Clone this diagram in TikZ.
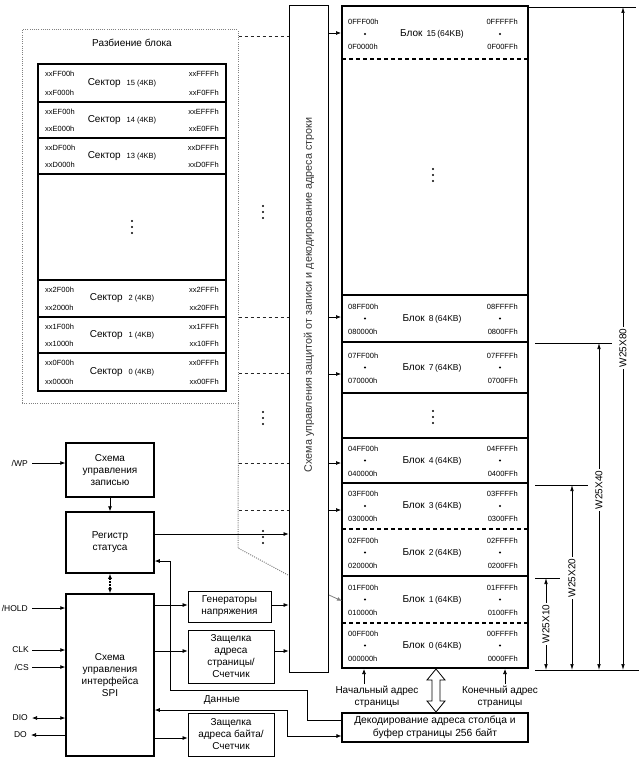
\documentclass[tikz,border=0pt]{standalone}
\usepackage{fontspec}
\setmainfont{Liberation Sans}
\usetikzlibrary{arrows.meta,calc}
\begin{document}
\begin{tikzpicture}[x=1pt,y=-1pt,
  arr/.style={-{Latex[length=5pt,width=4pt]}, line width=0.7pt},
  darr/.style={{Latex[length=5pt,width=4pt]}-{Latex[length=5pt,width=4pt]}, line width=0.7pt},
  dimarr/.style={{Latex[length=6pt,width=3.5pt]}-{Latex[length=6pt,width=3.5pt]}, line width=0.6pt},
  thickbox/.style={draw, line width=1.5pt, align=center, inner sep=0pt, font=\fontsize{10}{12}\selectfont},
  thinbox/.style={draw, line width=0.8pt, align=center, inner sep=0pt, font=\fontsize{10}{12}\selectfont},
  addr/.style={inner sep=0pt, font=\fontsize{7.5}{8}\selectfont},
  lbl/.style={inner sep=0pt, font=\fontsize{10}{12}\selectfont, align=center},
  sig/.style={inner sep=0pt, font=\fontsize{8.5}{10}\selectfont, anchor=east},
  dsh/.style={dash pattern=on 3pt off 3pt, line width=0.9pt, black!85},
  dotl/.style={dash pattern=on 1pt off 1.2pt, line width=1pt, gray},
  dimlbl/.style={fill=white, rotate=90, inner sep=1.5pt, font=\fontsize{10}{12}\selectfont},
  vd/.pic={\fill (0,-6) circle (1.1pt) (0,0) circle (1.1pt) (0,6) circle (1.1pt);}
]
\useasboundingbox (0,0) rectangle (639,760);

% ---------- block partition (sectors) ----------
\node[draw, dotl, minimum width=216pt, minimum height=373pt, inner sep=0pt] (part) at (130,216.5) {};
\node[lbl] (ptitle) at (132,43) {Разбиение блока};
\foreach \tp/\bt/\nm/\la/\lb/\ra/\rb in {
  64/102/15/xxFF00h/xxF000h/xxFFFFh/xxF0FFh,
  102/138/14/xxEF00h/xxE000h/xxEFFFh/xxE0FFh,
  138/174/13/xxDF00h/xxD000h/xxDFFFh/xxD0FFh,
  280/317/2/xx2F00h/xx2000h/xx2FFFh/xx20FFh,
  317/353/1/xx1F00h/xx1000h/xx1FFFh/xx10FFh,
  353/391/0/xx0F00h/xx0000h/xx0FFFh/xx00FFh}{
  \draw[line width=1.3pt] (38,\tp) rectangle (226,\bt);
  \node[addr, anchor=west] at (45,\tp+10) {\la};
  \node[addr, anchor=west] at (45,\bt-9) {\lb};
  \node[addr, anchor=east] at (219,\tp+10) {\ra};
  \node[addr, anchor=east] at (219,\bt-9) {\rb};
  \node[inner sep=0pt] at (122,{(\tp+\bt)/2}) {\fontsize{10}{12}\selectfont Сектор\hspace{6pt}\fontsize{7.5}{9}\selectfont\nm\ (4KB)};
}
\draw[line width=1.3pt] (38,174) rectangle (226,280);
\pic at (132,227) {vd};

% dotted continuation of the partition outline
\draw[dotl] (part.south east) -- (238,548) -- (288,575);

% ---------- row decoder ----------
\node[draw, line width=0.8pt, minimum width=39pt, minimum height=667pt, inner sep=0pt] (rowdec) at (308.5,338.5) {};
\node[rotate=90, inner sep=0pt, text=black!80, font=\fontsize{10.8}{12}\selectfont] (rowtxt) at (309,295) {Схема управления защитой от записи и декодирование адреса строки};

% ---------- memory array ----------
\node[draw, line width=2pt, minimum width=186pt, minimum height=662pt, inner sep=0pt] (mem) at (435,337) {};
\draw[line width=1.5pt, dash pattern=on 4pt off 3pt] (342,59) -- (528,59);
\draw[line width=1.2pt] (342,295) -- (528,295);
\draw[line width=1.2pt] (342,342) -- (528,342);
\draw[line width=1.5pt] (342,393) -- (528,393);
\draw[line width=1.5pt] (342,438) -- (528,438);
\draw[line width=1.2pt] (342,483) -- (528,483);
\draw[line width=1.5pt, dash pattern=on 4pt off 3pt] (342,529) -- (528,529);
\draw[line width=2pt] (342,576) -- (528,576);
\draw[line width=1.5pt, dash pattern=on 4pt off 3pt] (342,623) -- (528,623);
\foreach \m/\nm/\la/\lb/\ra/\rb in {
  34/15/0FFF00h/0F0000h/0FFFFFh/0F00FFh,
  318.5/8/08FF00h/080000h/08FFFFh/0800FFh,
  367.5/7/07FF00h/070000h/07FFFFh/0700FFh,
  460.5/4/04FF00h/040000h/04FFFFh/0400FFh,
  506/3/03FF00h/030000h/03FFFFh/0300FFh,
  552.5/2/02FF00h/020000h/02FFFFh/0200FFh,
  599.5/1/01FF00h/010000h/01FFFFh/0100FFh,
  645.5/0/00FF00h/000000h/00FFFFh/0000FFh}{
  \node[addr, anchor=west] at (348,\m-12) {\la};
  \fill (365,\m) circle (1.1pt);
  \node[addr, anchor=west] at (348,\m+13) {\lb};
  \node[addr, anchor=east] at (518,\m-12) {\ra};
  \fill (500,\m) circle (1.1pt);
  \node[addr, anchor=east] at (518,\m+13) {\rb};
  \node[inner sep=0pt] at (432,\m) {\fontsize{10}{12}\selectfont Блок\hspace{4pt}\fontsize{8.5}{9}\selectfont\nm\,(64KB)};
}
\pic at (433,175) {vd};
\pic at (433,417) {vd};

% ---------- links partition -> row decoder -> memory ----------
\foreach \y in {36,317,373,463,510}{
  \coordinate (q\y) at (0,\y);
  \draw[dsh] (q\y -| part.east) -- (q\y -| rowdec.west);
}
\foreach \y in {33,317,374,463,510}{
  \coordinate (r\y) at (0,\y);
  \draw[arr] (r\y -| rowdec.east) -- (r\y -| mem.west);
}
\draw[-{Latex[length=5pt,width=4pt]}, line width=0.8pt, gray] (329,595) -- (342,601);
\pic at (263,212) {vd};
\pic at (263,418) {vd};
\pic at (263,537) {vd};

% ---------- dimension lines ----------
\draw[line width=0.7pt] (528,7) -- (636,7);
\draw[line width=0.6pt] (535,343) -- (612,343);
\draw[line width=0.6pt] (535,485) -- (588,485);
\draw[line width=0.6pt] (535,578) -- (560,578);
\draw[line width=0.7pt] (535,670) -- (639,670);
\draw[dimarr] (623,7) -- (623,670);
\node[dimlbl] at (623,348) {W25X80};
\draw[dimarr] (599,343) -- (599,670);
\node[dimlbl] at (599,490) {W25X40};
\draw[dimarr] (572,485) -- (572,670);
\node[dimlbl] at (572,578) {W25X20};
\draw[dimarr] (546,578) -- (546,670);
\node[dimlbl] at (546,624) {W25X10};

% ---------- control blocks ----------
\node[thickbox, minimum width=88pt, minimum height=54pt] (wpctl) at (110,470) {Схема\\управления\\записью};
\node[thickbox, minimum width=88pt, minimum height=61pt] (status) at (110,542.5) {Регистр\\статуса};
\node[thickbox, minimum width=88pt, minimum height=162pt] (spi) at (110,675) {Схема\\управления\\интерфейса\\SPI};
\node[thinbox, minimum width=83pt, minimum height=31pt] (gen) at (229.5,606.5) {Генераторы\\напряжения};
\node[thinbox, minimum width=86pt, minimum height=53pt] (page) at (231,656.5) {Защелка\\адреса\\страницы/\\Счетчик};
\node[thinbox, minimum width=86pt, minimum height=43pt] (byte) at (231,734.5) {Защелка\\адреса байта/\\Счетчик};
\node[draw, line width=1.2pt, minimum width=186pt, minimum height=29pt, inner sep=0pt, align=center, font=\fontsize{10.3}{12.5}\selectfont] (decode) at (435,727.5) {Декодирование адреса столбца и\\буфер страницы 256 байт};

% signals
\node[sig] (wp) at (28,463) {/WP};
\node[sig] (hold) at (28,608) {/HOLD};
\node[sig] (clk) at (29,650) {CLK};
\node[sig] (cs) at (29,667) {/CS};
\node[sig] (dio) at (28,718) {DIO};
\node[sig] (do) at (27,735) {DO};
\coordinate (c463) at (0,463);
\coordinate (c608) at (0,608);
\coordinate (c650) at (0,650);
\coordinate (c667) at (0,667);
\coordinate (c718) at (0,718);
\coordinate (c735) at (0,735);
\draw[arr] (wp.east) ++(4,0) -- (c463 -| wpctl.west);
\draw[arr] (hold.east) ++(4,0) -- (c608 -| spi.west);
\draw[arr] (clk.east) ++(3,0) -- (c650 -| spi.west);
\draw[arr] (cs.east) ++(3,0) -- (c667 -| spi.west);
\draw[darr] (dio.east) ++(4,0) -- (c718 -| spi.west);
\draw[arr] (c735 -| spi.west) -- ($(do.east)+(4,0)$);

% internal connections
\draw[arr] (wpctl.south) -- (status.north);
\draw[darr, dash pattern=on 1.5pt off 1.5pt, line width=1.4pt] (status.south) -- (spi.north);
\coordinate (c534) at (0,534);
\draw[arr] (c534 -| status.east) -- (c534 -| rowdec.west);
\coordinate (c605) at (0,605);
\draw[arr] (c605 -| spi.east) -- (c605 -| gen.west);
\draw[arr] (c605 -| gen.east) -- (c605 -| rowdec.west);
\coordinate (c651) at (0,651);
\draw[arr] (c651 -| spi.east) -- (c651 -| page.west);
\draw[arr] (c651 -| page.east) -- (c651 -| rowdec.west);
\coordinate (c738) at (0,738);
\draw[arr] (c738 -| spi.east) -- (c738 -| byte.west);
\coordinate (c720) at (0,720);
\coordinate (c561) at (0,561);
\draw[arr] (c720 -| decode.west) -- (307,720) -- (307,690) -- (170,690) -- (170,561) -- (c561 -| status.east);
\coordinate (c736) at (0,736);
\coordinate (c710) at (0,710);
\draw[darr] (c736 -| decode.west) -- (287,736) -- (287,710) -- (c710 -| spi.east);
\node[lbl] (data) at (222,700) {Данные};

% page address labels
\node[lbl] (startl) at (377,697) {Начальный адрес\\страницы};
\node[lbl] (endl) at (500,697) {Конечный адрес\\страницы};
\coordinate (sa) at (364,684);
\coordinate (ea) at (505,684);
\draw[arr] (sa) -- (sa |- mem.south);
\draw[arr] (ea) -- (ea |- mem.south);
% hollow double arrow between array and page buffer
\draw[line width=0.8pt, fill=white] (436,669) -- (445,680) -- (440,680) -- (440,701) -- (445,701) -- (436,712) -- (427,701) -- (432,701) -- (432,680) -- (427,680) -- cycle;
\end{tikzpicture}
\end{document}
